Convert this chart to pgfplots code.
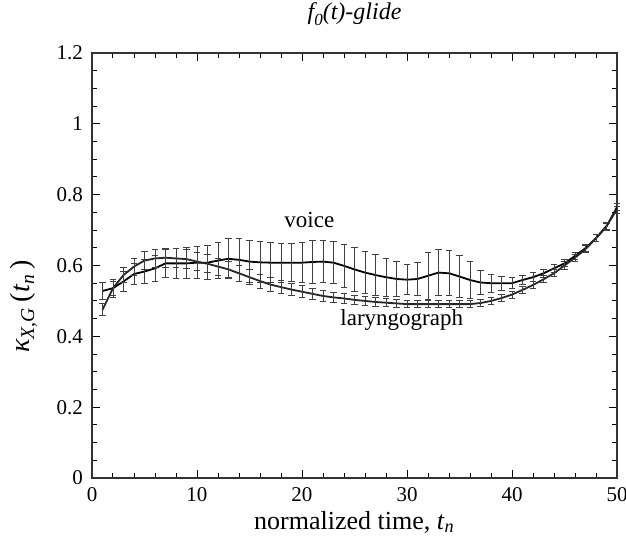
\documentclass[border=0pt]{standalone}
\usepackage{fontspec}
\setmainfont{Liberation Serif}
\usepackage{pgfplots}
\pgfplotsset{compat=1.18}
\usepackage{pgfplotstable}

\pgfplotstableread{
t y e
1 0.528 0.025
2 0.536 0.025
3 0.555 0.028
4 0.576 0.030
5 0.583 0.033
6 0.592 0.036
7 0.606 0.040
8 0.606 0.042
9 0.606 0.044
10 0.608 0.046
11 0.608 0.048
12 0.614 0.052
13 0.619 0.056
14 0.616 0.060
15 0.611 0.060
16 0.609 0.058
17 0.608 0.056
18 0.608 0.055
19 0.608 0.054
20 0.608 0.056
21 0.610 0.060
22 0.611 0.059
23 0.608 0.059
24 0.599 0.061
25 0.589 0.061
26 0.580 0.060
27 0.573 0.059
28 0.567 0.054
29 0.562 0.050
30 0.560 0.042
31 0.562 0.046
32 0.571 0.066
33 0.580 0.066
34 0.578 0.064
35 0.569 0.059
36 0.559 0.051
37 0.552 0.035
38 0.550 0.025
39 0.550 0.020
40 0.550 0.015
41 0.559 0.014
42 0.567 0.012
43 0.578 0.012
44 0.592 0.011
45 0.606 0.010
46 0.627 0.010
47 0.649 0.010
48 0.677 0.010
49 0.710 0.010
50 0.765 0.010
}\voicedata

\pgfplotstableread{
t y e
1 0.475 0.017
2 0.536 0.020
3 0.573 0.022
4 0.597 0.024
5 0.614 0.025
6 0.620 0.026
7 0.622 0.027
8 0.620 0.027
9 0.618 0.027
10 0.611 0.026
11 0.605 0.025
12 0.597 0.024
13 0.589 0.023
14 0.578 0.022
15 0.567 0.021
16 0.556 0.020
17 0.546 0.019
18 0.539 0.018
19 0.532 0.018
20 0.526 0.017
21 0.520 0.016
22 0.514 0.015
23 0.510 0.014
24 0.507 0.013
25 0.503 0.013
26 0.500 0.012
27 0.497 0.012
28 0.495 0.011
29 0.493 0.011
30 0.491 0.010
31 0.491 0.010
32 0.491 0.010
33 0.491 0.010
34 0.491 0.010
35 0.491 0.010
36 0.491 0.010
37 0.494 0.010
38 0.500 0.010
39 0.508 0.010
40 0.518 0.010
41 0.531 0.010
42 0.545 0.010
43 0.561 0.010
44 0.578 0.010
45 0.600 0.010
46 0.622 0.010
47 0.646 0.010
48 0.677 0.010
49 0.712 0.010
50 0.758 0.010
}\larydata

\begin{document}
\begin{tikzpicture}
\begin{axis}[
  name=ax,
  width=262.5pt, height=212.5pt, scale only axis,
  xmin=0, xmax=50, ymin=0, ymax=1.2,
  xtick={0,10,20,30,40,50},
  ytick={0,0.2,0.4,0.6,0.8,1,1.2},
  yticklabels={0,0.2,0.4,0.6,0.8,1,1.2},
  minor x tick num=4, minor y tick num=3,
  tick align=inside,
  major tick length=4pt, minor tick length=2.5pt,
  every tick/.style={black, line width=0.5pt},
  axis line style={line width=0.6pt, black!80},
  ticklabel style={font=\fontsize{10.5}{12}\selectfont},
  /pgf/number format/assume math mode=true,
  xticklabel style={yshift=-1pt},
  yticklabel style={xshift=-1pt},
  xlabel={normalized time, \textit{t}\textsubscript{\textit{n}}},
  xlabel style={font=\fontsize{13}{15}\selectfont, yshift=2pt},
  ylabel={\textit{κ}\textsubscript{\textit{X,G}}\,(\textit{t}\textsubscript{\textit{n}}\,)},
  ylabel style={font=\fontsize{14}{16}\selectfont, at={(axis description cs:-0.13,0.404)}, anchor=center},
  title={\itshape f\raisebox{-0.6ex}{\fontsize{8.5}{9}\selectfont 0}(t)-glide},
  title style={font=\fontsize{12}{14}\selectfont, at={(axis description cs:0.5,1)}, anchor=base, yshift=11pt},
  clip=false,
]
\addplot[black, line width=0.9pt, mark=none,
  error bars/.cd, y dir=both, y explicit,
  error mark=-, error bar style={line width=0.45pt, black!75},
  error mark options={rotate=90, mark size=1.6pt, line width=0.5pt, black!75}]
  table[x=t, y=y, y error=e] {\voicedata};
\addplot[black!85, line width=0.9pt, mark=none,
  error bars/.cd, y dir=both, y explicit,
  error mark=-, error bar style={line width=0.45pt, black!75},
  error mark options={rotate=90, mark size=1.6pt, line width=0.5pt, black!75}]
  table[x=t, y=y, y error=e] {\larydata};
\node[anchor=base, font=\fontsize{11.5}{13}\selectfont] at (axis cs:20.7,0.706) {voice};
\node[anchor=base, font=\fontsize{11.5}{13}\selectfont] at (axis cs:29.5,0.43) {laryngograph};
\end{axis}
\pgfresetboundingbox
\path ([xshift=-46pt,yshift=-32.5pt]ax.south west) rectangle ([xshift=4.5pt,yshift=26.5pt]ax.north east);
\end{tikzpicture}
\end{document}
